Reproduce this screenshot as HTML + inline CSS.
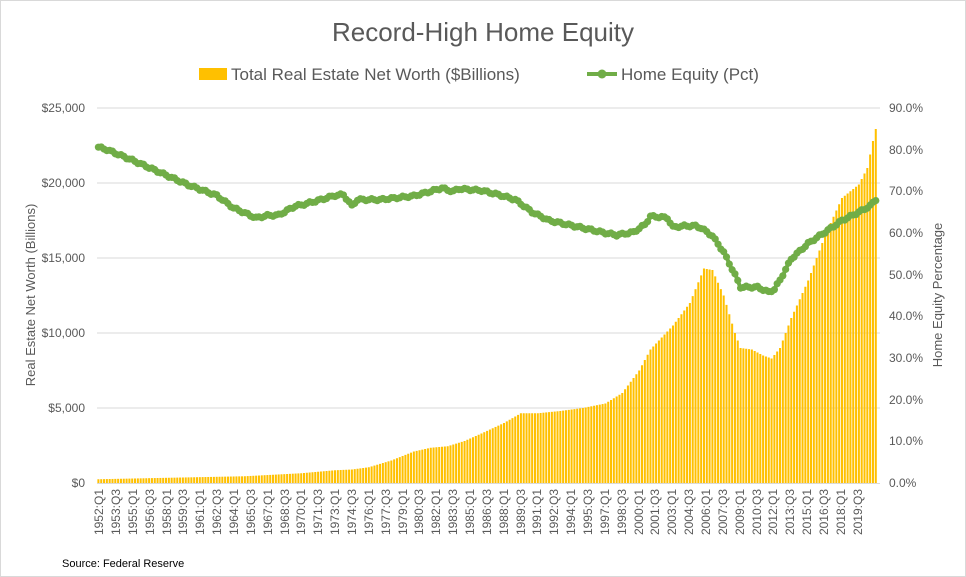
<!DOCTYPE html>
<html><head><meta charset="utf-8"><style>
body{margin:0;background:#fff;}
svg{display:block;font-family:"Liberation Sans",sans-serif;}
</style></head><body>
<svg id="s" width="966" height="577" viewBox="0 0 966 577" xmlns="http://www.w3.org/2000/svg">
<rect x="0.5" y="0.5" width="965" height="576" fill="#fff" stroke="#d9d9d9"/>
<text x="483" y="41" text-anchor="middle" font-size="26" fill="#595959">Record-High Home Equity</text>
<rect x="199" y="68" width="28" height="12" fill="#FFC000"/>
<text x="231" y="80" font-size="17" fill="#595959">Total Real Estate Net Worth ($Billions)</text>
<line x1="587" y1="74" x2="617" y2="74" stroke="#70AD47" stroke-width="4"/>
<circle cx="602" cy="74" r="4.5" fill="#70AD47"/>
<text x="621" y="80" font-size="17" fill="#595959">Home Equity (Pct)</text>
<g stroke="#d9d9d9" stroke-width="1">
<line x1="97" y1="108" x2="880" y2="108"/><line x1="97" y1="183" x2="880" y2="183"/>
<line x1="97" y1="258" x2="880" y2="258"/><line x1="97" y1="333" x2="880" y2="333"/>
<line x1="97" y1="408" x2="880" y2="408"/>
</g>
<g font-size="12" fill="#595959" text-anchor="end">
<text x="85" y="112">$25,000</text><text x="85" y="187">$20,000</text><text x="85" y="262">$15,000</text>
<text x="85" y="337">$10,000</text><text x="85" y="412">$5,000</text><text x="85" y="487">$0</text>
</g>
<g font-size="12" fill="#595959" text-anchor="start">
<text x="889" y="112">90.0%</text><text x="889" y="154">80.0%</text><text x="889" y="195">70.0%</text>
<text x="889" y="237">60.0%</text><text x="889" y="279">50.0%</text><text x="889" y="320">40.0%</text>
<text x="889" y="362">30.0%</text><text x="889" y="404">20.0%</text><text x="889" y="445">10.0%</text>
<text x="889" y="487">0.0%</text>
</g>
<text transform="translate(35,295) rotate(-90)" text-anchor="middle" font-size="13" fill="#595959">Real Estate Net Worth (Billions)</text>
<text transform="translate(942,295) rotate(-90)" text-anchor="middle" font-size="13" fill="#595959">Home Equity Percentage</text>
<g id="bars" fill="#FFC000"></g>
<line x1="97" y1="483.5" x2="880" y2="483.5" stroke="#d9d9d9"/>
<g id="line"></g>
<g id="xl" font-size="12" fill="#595959" text-anchor="end">
<text transform="translate(103,489) rotate(-90)">1952:Q1</text>
<text transform="translate(120,489) rotate(-90)">1953:Q3</text>
<text transform="translate(137,489) rotate(-90)">1955:Q1</text>
<text transform="translate(154,489) rotate(-90)">1956:Q3</text>
<text transform="translate(171,489) rotate(-90)">1958:Q1</text>
<text transform="translate(187,489) rotate(-90)">1959:Q3</text>
<text transform="translate(204,489) rotate(-90)">1961:Q1</text>
<text transform="translate(221,489) rotate(-90)">1962:Q3</text>
<text transform="translate(238,489) rotate(-90)">1964:Q1</text>
<text transform="translate(255,489) rotate(-90)">1965:Q3</text>
<text transform="translate(272,489) rotate(-90)">1967:Q1</text>
<text transform="translate(289,489) rotate(-90)">1968:Q3</text>
<text transform="translate(305,489) rotate(-90)">1970:Q1</text>
<text transform="translate(322,489) rotate(-90)">1971:Q3</text>
<text transform="translate(339,489) rotate(-90)">1973:Q1</text>
<text transform="translate(356,489) rotate(-90)">1974:Q3</text>
<text transform="translate(373,489) rotate(-90)">1976:Q1</text>
<text transform="translate(390,489) rotate(-90)">1977:Q3</text>
<text transform="translate(407,489) rotate(-90)">1979:Q1</text>
<text transform="translate(423,489) rotate(-90)">1980:Q3</text>
<text transform="translate(440,489) rotate(-90)">1982:Q1</text>
<text transform="translate(457,489) rotate(-90)">1983:Q3</text>
<text transform="translate(474,489) rotate(-90)">1985:Q1</text>
<text transform="translate(491,489) rotate(-90)">1986:Q3</text>
<text transform="translate(508,489) rotate(-90)">1988:Q1</text>
<text transform="translate(525,489) rotate(-90)">1989:Q3</text>
<text transform="translate(541,489) rotate(-90)">1991:Q1</text>
<text transform="translate(558,489) rotate(-90)">1992:Q3</text>
<text transform="translate(575,489) rotate(-90)">1994:Q1</text>
<text transform="translate(592,489) rotate(-90)">1995:Q3</text>
<text transform="translate(609,489) rotate(-90)">1997:Q1</text>
<text transform="translate(626,489) rotate(-90)">1998:Q3</text>
<text transform="translate(643,489) rotate(-90)">2000:Q1</text>
<text transform="translate(659,489) rotate(-90)">2001:Q3</text>
<text transform="translate(676,489) rotate(-90)">2003:Q1</text>
<text transform="translate(693,489) rotate(-90)">2004:Q3</text>
<text transform="translate(710,489) rotate(-90)">2006:Q1</text>
<text transform="translate(727,489) rotate(-90)">2007:Q3</text>
<text transform="translate(744,489) rotate(-90)">2009:Q1</text>
<text transform="translate(761,489) rotate(-90)">2010:Q3</text>
<text transform="translate(777,489) rotate(-90)">2012:Q1</text>
<text transform="translate(794,489) rotate(-90)">2013:Q3</text>
<text transform="translate(811,489) rotate(-90)">2015:Q1</text>
<text transform="translate(828,489) rotate(-90)">2016:Q3</text>
<text transform="translate(845,489) rotate(-90)">2018:Q1</text>
<text transform="translate(862,489) rotate(-90)">2019:Q3</text>
</g>
<text x="62" y="567" font-size="11" fill="#000">Source: Federal Reserve</text>
</svg>
<script>
(function(){
var NS="http://www.w3.org/2000/svg";
var nw=[[0,250],[20,330],[52,450],[72,650],[84,850],[90,900],[96,1050],[104,1500],[112,2100],[118,2350],[124,2450],[130,2800],[136,3300],[144,4000],[150,4650],[156,4650],[164,4800],[172,5000],[180,5300],[186,6000],[192,7500],[196,8900],[204,10500],[210,12000],[215,14300],[218,14200],[222,12500],[226,10000],[228,9000],[232,8900],[236,8500],[239,8300],[242,9000],[246,11000],[252,13500],[258,16500],[264,19000],[270,19900],[273,21000],[275,22800],[276,23600]];
var eq=[[0,80.6],[3,80],[12,77.5],[22,74.5],[32,71.5],[42,69],[48,66],[56,63.6],[60,64.2],[64,64.3],[70,66.5],[72,66.7],[78,67.8],[84,69],[87,69.2],[90,66.5],[92,68],[100,68],[112,68.9],[118,70],[122,70.8],[124,70.3],[126,70],[128,70.6],[136,70.2],[142,69.2],[148,68],[154,65],[160,63],[170,61.5],[180,60],[184,59.5],[190,60.2],[194,62],[196,64],[200,63.8],[202,63.6],[204,61.4],[208,61.7],[212,61.7],[214,61.2],[218,59.3],[222,55.4],[226,50],[228,47],[231,47],[234,47],[238,45.8],[240,46.5],[242,48.7],[246,53.8],[252,57.5],[258,60.2],[264,63],[270,65],[274,66.5],[276,68]];
function interp(k,i){for(var j=0;j<k.length-1;j++){if(i>=k[j][0]&&i<=k[j+1][0]){var t=(i-k[j][0])/(k[j+1][0]-k[j][0]);return k[j][1]+t*(k[j+1][1]-k[j][1]);}}return k[k.length-1][1];}
var N=277,w=783/278,bars=document.getElementById("bars"),lg=document.getElementById("line"),pts=[];
for(var i=0;i<N;i++){
 var cx=97+(i+0.5)*w,v=interp(nw,i),h=v/1000*15;
 var r=document.createElementNS(NS,"rect");
 r.setAttribute("x",(cx-w*0.36).toFixed(2));r.setAttribute("width",(w*0.72).toFixed(2));
 r.setAttribute("y",(483-h).toFixed(2));r.setAttribute("height",h.toFixed(2));bars.appendChild(r);
 var e=interp(eq,i)+Math.sin(i*1.7)*0.25,y=483-e*375/90;pts.push([cx,y]);
}
var p=document.createElementNS(NS,"polyline");
p.setAttribute("points",pts.map(function(a){return a[0].toFixed(2)+","+a[1].toFixed(2)}).join(" "));
p.setAttribute("fill","none");p.setAttribute("stroke","#70AD47");p.setAttribute("stroke-width","4");p.setAttribute("stroke-linejoin","round");
lg.appendChild(p);
pts.forEach(function(a){var c=document.createElementNS(NS,"circle");c.setAttribute("cx",a[0]);c.setAttribute("cy",a[1]);c.setAttribute("r","3.6");c.setAttribute("fill","#70AD47");lg.appendChild(c);});
})();
</script>
</body></html>
